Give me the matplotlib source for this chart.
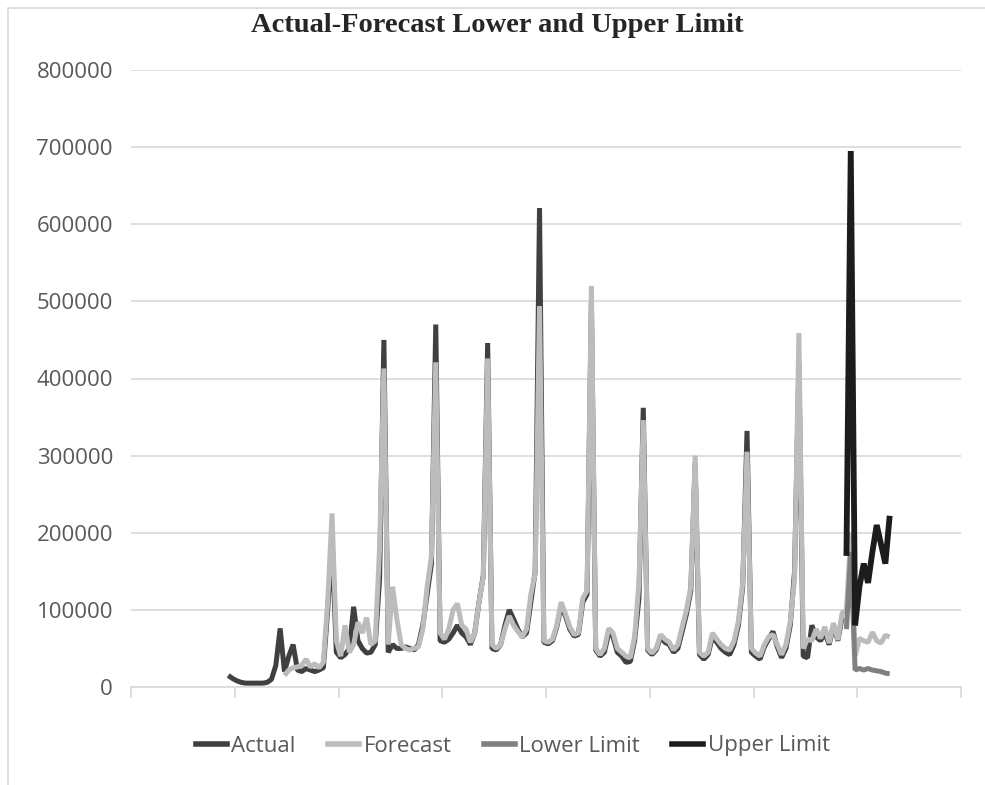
import numpy as np
import matplotlib
matplotlib.use("Agg")
import matplotlib.pyplot as plt
from matplotlib.ticker import FuncFormatter
from matplotlib.patches import Rectangle
from matplotlib.lines import Line2D

plt.rcParams['font.family'] = ['Open Sans', 'DejaVu Sans']

# ---------------- data ----------------
title = "Actual-Forecast Lower and Upper Limit"
series_names = ["Actual", "Forecast", "Lower Limit", "Upper Limit"]
n_categories = 192          # monthly categories on the axis
tick_every = 24             # tick marks every 24 categories
y_ticks = [0, 100000, 200000, 300000, 400000, 500000, 600000, 700000, 800000]

actual_start = 22
actual = [
    15000, 11000, 8000, 6000, 5000, 5000, 5000, 5000, 5000, 6000, 10000, 28000,
    76000, 20000, 40000, 55000, 22000, 20000, 24000, 22000, 20000, 22000, 25000, 100000,
    190000, 45000, 38000, 42000, 50000, 104000, 60000, 50000, 44000, 45000, 55000, 140000,
    450000, 45000, 55000, 50000, 50000, 52000, 50000, 48000, 55000, 80000, 120000, 160000,
    470000, 60000, 58000, 62000, 70000, 80000, 70000, 65000, 55000, 70000, 110000, 145000,
    446000, 50000, 48000, 55000, 80000, 100000, 88000, 75000, 65000, 70000, 110000, 150000,
    621000, 58000, 56000, 60000, 78000, 105000, 92000, 75000, 66000, 68000, 110000, 120000,
    500000, 48000, 40000, 45000, 70000, 65000, 45000, 40000, 32000, 33000, 60000, 115000,
    362000, 48000, 42000, 48000, 65000, 58000, 55000, 45000, 50000, 72000, 95000, 125000,
    290000, 42000, 36000, 42000, 65000, 58000, 50000, 45000, 42000, 55000, 80000, 130000,
    332000, 45000, 40000, 36000, 52000, 62000, 72000, 52000, 38000, 50000, 80000, 150000,
    420000, 40000, 38000, 80000, 65000, 60000, 70000, 55000, 80000, 60000, 90000,
]

forecast_start = 35
forecast = [
    15000, 22000, 25000, 26000, 28000, 36000, 26000, 30000, 25000, 32000, 110000,
    225000, 60000, 40000, 80000, 45000, 55000, 84000, 70000, 90000, 55000, 60000, 180000,
    413000, 55000, 130000, 88000, 55000, 50000, 48000, 50000, 52000, 75000, 130000, 170000,
    421000, 70000, 62000, 75000, 100000, 108000, 80000, 75000, 58000, 70000, 110000, 143000,
    426000, 55000, 50000, 55000, 75000, 92000, 80000, 72000, 65000, 75000, 120000, 148000,
    494000, 60000, 58000, 62000, 80000, 110000, 95000, 78000, 68000, 70000, 115000, 125000,
    520000, 50000, 42000, 50000, 76000, 70000, 50000, 45000, 40000, 38000, 65000, 135000,
    346000, 50000, 44000, 50000, 68000, 62000, 58000, 48000, 55000, 78000, 100000, 130000,
    300000, 45000, 40000, 45000, 70000, 62000, 55000, 50000, 48000, 60000, 85000, 135000,
    305000, 50000, 44000, 40000, 55000, 65000, 68000, 55000, 42000, 55000, 85000, 140000,
    459000, 50000, 62000, 60000, 75000, 63000, 78000, 57000, 83000, 61000, 96000, 100000,
    200000, 40000, 63000, 60000, 58000, 71000, 60000, 57000, 67000, 65000,
]

limits_start = 165
lower_limit = [75000, 175000, 22000, 24000, 22000, 24000, 22000, 21000, 20000, 18000, 17000]
upper_limit = [170000, 695000, 80000, 130000, 160000, 135000, 175000, 210000, 185000, 160000, 222000]

colors = ["#404040", "#bcbcbc", "#808080", "#1c1c1c"]

# ---------------- figure ----------------
W, H = 985, 785
fig = plt.figure(figsize=(W / 100, H / 100), dpi=100)
fig.patch.set_facecolor("white")

# outer chart frame (only top/left visible in the crop)
fig.patches.append(Rectangle((8 / W, -0.5), 2.0, (1 - 8 / H) + 0.5, transform=fig.transFigure,
                             fill=False, edgecolor="#d9d9d9", lw=1.2, zorder=0))

left, right, top, bottom = 131, 961, 70, 687
ax = fig.add_axes([left / W, 1 - bottom / H, (right - left) / W, (bottom - top) / H])

series = [
    (actual_start, actual),
    (forecast_start, forecast),
    (limits_start, lower_limit),
    (limits_start, upper_limit),
]
widths = [3.6, 3.6, 3.6, 4.2]
for (start, vals), name, c, lw in zip(series, series_names, colors, widths):
    x = np.arange(start, start + len(vals))
    ax.plot(x, vals, color=c, lw=lw, label=name, solid_joinstyle="bevel",
            solid_capstyle="butt", zorder=3)

ax.set_xlim(-0.5, n_categories - 0.5)
ax.set_ylim(0, 800000)
ax.set_xticks(np.arange(-0.5, n_categories, tick_every))
ax.set_yticks(y_ticks)
ax.yaxis.set_major_formatter(FuncFormatter(lambda v, p: f"{int(v)}"))

for s in ["left", "right", "top"]:
    ax.spines[s].set_visible(False)
ax.spines["bottom"].set_color("#d9d9d9")
ax.spines["bottom"].set_linewidth(1.2)

ax.tick_params(axis="x", length=8, width=1.2, color="#d9d9d9", direction="out",
               labelbottom=False)
ax.tick_params(axis="y", length=0, pad=13, labelsize=16, labelcolor="#595959")
ax.yaxis.grid(True, color="#d9d9d9", lw=1.2)
ax.set_axisbelow(True)

fig.text(497 / W, 1 - 26 / H, title, ha="center", va="center",
         family=["Liberation Serif", "DejaVu Serif"], fontweight="bold",
         fontsize=20.5, color="#262626")

handles = [Line2D([], [], color=c, lw=4.0) for c in colors]
fig.legend(handles, series_names, loc="center", bbox_to_anchor=(513 / W, 1 - 746 / H),
           ncol=4, frameon=False, fontsize=16, handlelength=1.4, handletextpad=0.2,
           columnspacing=1.45, labelcolor="#595959")

fig.savefig("out.png", dpi=100, facecolor="white")
